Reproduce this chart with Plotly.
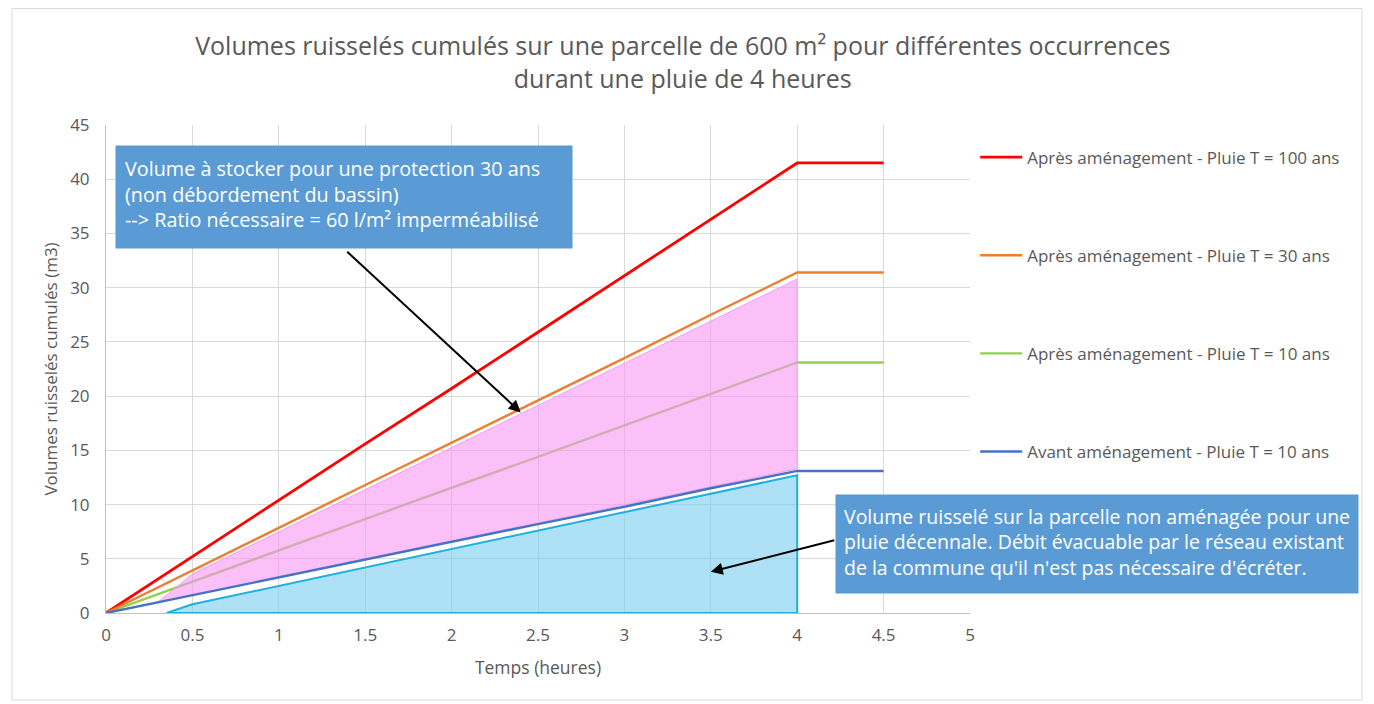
import plotly.graph_objects as go

# ---- data ----
t = [0, 0.5, 1, 1.5, 2, 2.5, 3, 3.5, 4, 4.5]
v_100_apres = [0, 5.2, 10.4, 15.6, 20.7, 25.9, 31.1, 36.3, 41.5, 41.5]
v_30_apres = [0, 3.9, 7.85, 11.8, 15.7, 19.6, 23.5, 27.5, 31.4, 31.4]
v_10_apres = [0, 2.9, 5.8, 8.7, 11.55, 14.4, 17.3, 20.2, 23.1, 23.1]
v_10_avant = [0, 1.65, 3.3, 4.9, 6.55, 8.2, 9.8, 11.5, 13.1, 13.1]

# stored volume area (pink) and runoff area before development (cyan)
stock_t = [0.3, 0.5, 4.0, 4.0, 0.3]
stock_v = [1.0, 3.6, 30.8, 13.3, 1.0]
avant_t = [0.35, 0.5, 4.0, 4.0, 0.35]
avant_v = [0, 0.8, 12.7, 0, 0]

names = [
    "Après aménagement - Pluie T = 100 ans",
    "Après aménagement - Pluie T = 30 ans",
    "Après aménagement - Pluie T = 10 ans",
    "Avant aménagement - Pluie T = 10 ans",
]
title_text = ("Volumes ruisselés cumulés sur une parcelle de 600 m² pour différentes occurrences"
              "<br>durant une pluie de 4 heures")
note_stock = ("Volume à stocker pour une protection 30 ans<br>(non débordement du bassin)"
              "<br>--> Ratio nécessaire = 60 l/m² imperméabilisé")
note_avant = ("Volume ruisselé sur la parcelle non aménagée pour une<br>pluie décennale. "
              "Débit évacuable par le réseau existant<br>de la commune qu'il n'est pas nécessaire d'écréter.")

FONT = "Open Sans"
GREY = "#595959"

# plot area in figure pixels
L, T, PW, PH = 98, 117, 864, 488
W, H = 1366, 696

fig = go.Figure()

fig.add_trace(go.Scatter(x=t, y=v_10_apres, mode="lines", name=names[2],
                         line=dict(color="#92d050", width=2.4), legendgroup="c", legendrank=3))
fig.add_trace(go.Scatter(x=avant_t, y=avant_v, mode="lines", fill="toself",
                         fillcolor="rgba(120,205,240,0.6)", line=dict(color="#1fb0e0", width=2),
                         showlegend=False, hoverinfo="skip"))
fig.add_trace(go.Scatter(x=stock_t, y=stock_v, mode="lines", fill="toself",
                         fillcolor="rgba(250,150,245,0.6)", line=dict(color="#f59df0", width=1),
                         showlegend=False, hoverinfo="skip"))
fig.add_trace(go.Scatter(x=t, y=v_100_apres, mode="lines", name=names[0],
                         line=dict(color="#ff0000", width=2.8), legendgroup="a", legendrank=1))
fig.add_trace(go.Scatter(x=t, y=v_30_apres, mode="lines", name=names[1],
                         line=dict(color="#ed7d31", width=2.4), legendgroup="b", legendrank=2))
fig.add_trace(go.Scatter(x=t, y=v_10_avant, mode="lines", name=names[3],
                         line=dict(color="#4472c4", width=2.4), legendgroup="d", legendrank=4))

fig.update_layout(
    width=W, height=H,
    margin=dict(l=L, r=W - L - PW, t=T, b=H - T - PH),
    paper_bgcolor="white", plot_bgcolor="white",
    font=dict(family=FONT, color=GREY, size=17),
    title=dict(text=title_text, x=0.494, xanchor="center", y=0.932, yanchor="top",
               yref="container", font=dict(family=FONT, size=25, color=GREY)),
    showlegend=True,
    legend=dict(x=1.006, xanchor="left", y=0.97, yanchor="top", tracegroupgap=73,
                font=dict(size=17, color=GREY), itemwidth=42, bgcolor="rgba(0,0,0,0)"),
    xaxis=dict(range=[0, 5], dtick=0.5, showgrid=True, gridcolor="#d9d9d9", gridwidth=1,
               showline=True, linecolor="#bfbfbf", linewidth=1, zeroline=False,
               ticks="", tickfont=dict(size=17, color=GREY), ticklabelstandoff=7,
               title=dict(text="Temps (heures)", font=dict(size=17.5, color=GREY), standoff=16)),
    yaxis=dict(range=[0, 45], dtick=5, showgrid=True, gridcolor="#d9d9d9", gridwidth=1,
               showline=True, linecolor="#bfbfbf", linewidth=1, zeroline=False,
               ticks="", tickfont=dict(size=17, color=GREY), ticklabelstandoff=12,
               title=dict(text="Volumes ruisselés cumulés (m3)", font=dict(size=17, color=GREY), standoff=8)),
)

# frame around the whole chart
fig.add_shape(type="rect", xref="paper", yref="paper",
              x0=(4 - L) / PW, x1=(1354 - L) / PW,
              y0=(T + PH - 692) / PH, y1=(T + PH - 0.5) / PH,
              line=dict(color="#d9d9d9", width=1), layer="below")

# text boxes
fig.add_annotation(xref="paper", yref="paper", x=9 / PW, y=(488 - 20) / PH,
                   xanchor="left", yanchor="top", text=note_stock, showarrow=False,
                   align="left", valign="top", width=438, height=84, borderpad=9,
                   bgcolor="#5b9bd5", font=dict(family=FONT, size=19.8, color="white"))
fig.add_annotation(xref="paper", yref="paper", x=(835 - 106) / PW, y=(613 - 494) / PH,
                   xanchor="left", yanchor="top", text=note_avant, showarrow=False,
                   align="left", valign="top", width=506, height=82, borderpad=8,
                   bgcolor="#5b9bd5", font=dict(family=FONT, size=19.5, color="white"))

# arrows
fig.add_annotation(x=2.40, y=18.5, xref="x", yref="y", text="", showarrow=True,
                   ax=-175, ay=-162, arrowhead=2, arrowsize=1.2, arrowwidth=2, arrowcolor="black")
fig.add_annotation(x=3.50, y=3.8, xref="x", yref="y", text="", showarrow=True,
                   ax=125, ay=-32, arrowhead=2, arrowsize=1.2, arrowwidth=2, arrowcolor="black")

fig.write_html("out.html")
